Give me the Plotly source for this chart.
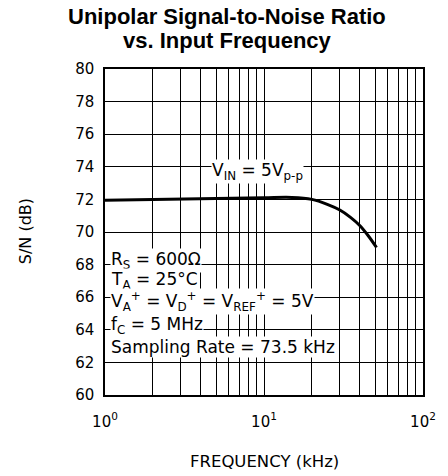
import plotly.graph_objects as go

freq_khz = [1, 2, 5, 10, 15, 20, 25, 30, 35, 40, 45, 51]
snr_db = [71.95, 72.0, 72.05, 72.1, 72.12, 72.0, 71.7, 71.35, 70.9, 70.4, 69.8, 69.05]

x_grid_vals = [1, 2, 3, 4, 5, 6, 7, 8, 9, 10, 20, 30, 40, 50, 60, 70, 80, 90, 100]
x_tick_text = ["10<sup>0</sup>" if v == 1 else "10<sup>1</sup>" if v == 10 else "10<sup>2</sup>" if v == 100 else "" for v in x_grid_vals]
y_ticks = [60, 62, 64, 66, 68, 70, 72, 74, 76, 78, 80]

title_lines = [("Unipolar Signal-to-Noise Ratio", 1.162), ("vs. Input Frequency", 1.086)]
x_title = "FREQUENCY (kHz)"
y_title = "S/N (dB)"

cond_lines = [
    ("R<sub>S</sub> = 600Ω", 68.25),
    ("T<sub>A</sub> = 25°C", 67.05),
    ("V<sub>A</sub><sup>+</sup> = V<sub>D</sub><sup>+</sup> = V<sub>REF</sub><sup>+</sup> = 5V", 65.75),
    ("f<sub>C</sub> = 5 MHz", 64.25),
    ("Sampling Rate = 73.5 kHz", 62.95),
]

fig = go.Figure()
fig.add_trace(go.Scatter(x=freq_khz, y=snr_db, mode="lines",
                         line=dict(color="black", width=3, shape="spline"),
                         showlegend=False, hoverinfo="skip"))

font_main = "DejaVu Sans"
fig.update_layout(
    width=448, height=476,
    margin=dict(l=105, r=16, t=69, b=81),
    paper_bgcolor="white", plot_bgcolor="white",
    xaxis=dict(type="log", range=[0, 2], tickvals=x_grid_vals, ticktext=x_tick_text,
               showgrid=True, gridcolor="black", gridwidth=1,
               showline=True, linecolor="black", linewidth=1.5, mirror=True,
               ticks="", ticklabelstandoff=12,
               tickfont=dict(family=font_main, size=15, color="black"),
               zeroline=False),
    yaxis=dict(range=[60, 80], tickvals=y_ticks,
               showgrid=True, gridcolor="black", gridwidth=1,
               showline=True, linecolor="black", linewidth=1.5, mirror=True,
               ticks="", ticklabelstandoff=6,
               tickfont=dict(family=font_main, size=15, color="black"),
               zeroline=False),
)

for txt, yp in title_lines:
    fig.add_annotation(x=0.385, xref="paper", y=yp, yref="paper", text="<b>" + txt + "</b>",
                       showarrow=False, xanchor="center", yanchor="middle",
                       font=dict(family="Liberation Sans", size=22, color="black"))

fig.add_annotation(x=0.5015, xref="paper", y=-0.2025, yref="paper", text=x_title,
                   showarrow=False, xanchor="center", yanchor="middle",
                   font=dict(family=font_main, size=16.5, color="black"))
fig.add_annotation(x=-0.251, xref="paper", y=0.503, yref="paper", text=y_title,
                   textangle=-90, showarrow=False, xanchor="center", yanchor="middle",
                   font=dict(family=font_main, size=16, color="black"))

for txt, yv in cond_lines:
    fig.add_annotation(x=0.015, xref="paper", y=yv, yref="y", text=txt,
                       showarrow=False, xanchor="left", yanchor="middle",
                       bgcolor="white", borderpad=0,
                       font=dict(family=font_main, size=17, color="black"))

fig.add_annotation(x=0.333, xref="paper", y=73.7, yref="y",
                   text="V<sub>IN</sub> = 5V<sub>p-p</sub>",
                   showarrow=False, xanchor="left", yanchor="middle",
                   bgcolor="white", borderpad=0,
                   font=dict(family=font_main, size=17, color="black"))

fig.write_html("out.html", config={"displayModeBar": False},
               post_script="document.body.style.margin='0';document.body.style.padding='0';")
